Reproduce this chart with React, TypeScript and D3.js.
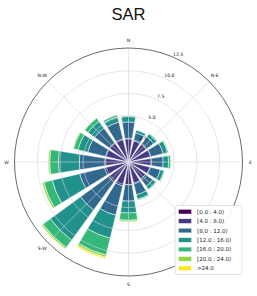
import React from 'react';
import * as d3 from 'd3';

const directions = ['N', 'NNE', 'NE', 'ENE', 'E', 'ESE', 'SE', 'SSE', 'S', 'SSW', 'SW', 'WSW', 'W', 'WNW', 'NW', 'NNW'];
const binLabels = ['[0.0 : 4.0)', '[4.0 : 8.0)', '[8.0 : 12.0)', '[12.0 : 16.0)', '[16.0 : 20.0)', '[20.0 : 24.0)', '>24.0'];

const bin0 = [0.3, 0.3, 0.3, 0.3, 0.3, 0.3, 0.3, 0.3, 0.3, 0.3, 0.3, 0.3, 0.3, 0.3, 0.3, 0.3];
const bin1 = [2.3, 2.1, 2.1, 2.2, 2.2, 2.1, 2.0, 2.1, 2.2, 2.4, 2.4, 2.4, 2.3, 2.3, 2.3, 2.3];
const bin2 = [1.8, 0.9, 1.0, 1.4, 1.3, 1.2, 1.0, 1.3, 1.8, 3.3, 3.8, 2.8, 2.8, 2.0, 2.0, 1.9];
const bin3 = [0.6, 0.3, 0.4, 0.5, 0.6, 0.4, 0.4, 0.5, 1.3, 2.6, 4.1, 3.1, 2.3, 1.1, 0.9, 0.6];
const bin4 = [0.1, 0.05, 0.1, 0.1, 0.25, 0.1, 0.1, 0.1, 0.8, 1.9, 1.0, 0.95, 0.95, 0.5, 0.45, 0.2];
const bin5 = [0, 0, 0, 0, 0.05, 0, 0, 0, 0.15, 0.25, 0.2, 0.2, 0.15, 0.1, 0.05, 0];
const bin6 = [0, 0, 0, 0, 0, 0, 0, 0, 0, 0.15, 0.05, 0, 0, 0, 0, 0];

const rTicks = [2.5, 5.0, 7.5, 10.0, 12.5];
const compassLabels = ['N', 'N-E', 'E', 'S-E', 'S', 'S-W', 'W', 'N-W'];
const binColors = ['#440154', '#443983', '#31688e', '#21918c', '#35b779', '#90d743', '#fde725'];

export default function App() {
  const W = 257, H = 296;
  const cx = 128.5, cy = 162;
  const bins = [bin0, bin1, bin2, bin3, bin4, bin5, bin6];
  const rows = directions.map((d, i) => {
    const o: any = { dir: d };
    bins.forEach((b, k) => (o['b' + k] = b[i]));
    return o;
  });
  const keys = bins.map((_, k) => 'b' + k);
  const stacked = d3.stack().keys(keys)(rows);
  const r = d3.scaleLinear().domain([0, 12.5]).range([0, 114]);
  const angle = d3.scaleBand().domain(directions).range([-Math.PI / 16, 2 * Math.PI - Math.PI / 16]);
  const width = (2 * Math.PI / 16) * 0.8;
  const arc = d3.arc<any>();
  const deg = Math.PI / 180;
  const labelAng = 22.5 * deg;

  return (
    <svg width={W} height={H} style={{ position: 'absolute', left: 0, top: 0, background: '#fff' }}>
      <text x={cx} y={19.5} textAnchor="middle" fontFamily="Liberation Sans, Arial, sans-serif" fontSize={16.5} fill="#111">SAR</text>
      <g transform={`translate(${cx},${cy})`}>
        {stacked.map((layer, k) => (
          <g key={k}>
            {layer.map((seg, i) => {
              if (seg[1] - seg[0] <= 0) return null;
              const a = (angle(directions[i]) as number) + angle.bandwidth() / 2;
              return (
                <path key={i}
                  d={arc({ innerRadius: r(seg[0]), outerRadius: r(seg[1]), startAngle: a - width / 2, endAngle: a + width / 2 }) as string}
                  fill={binColors[k]} stroke="#fff" strokeWidth={0.5} />
              );
            })}
          </g>
        ))}
        {rTicks.slice(0, -1).map((t) => (
          <circle key={t} r={r(t)} fill="none" stroke="#d6d6d6" strokeWidth={0.6} />
        ))}
        {compassLabels.map((c, i) => {
          const a = i * 45 * deg;
          return <line key={c} x1={0} y1={0} x2={r(12.5) * Math.sin(a)} y2={-r(12.5) * Math.cos(a)} stroke="#d6d6d6" strokeWidth={0.6} />;
        })}
        <circle r={r(12.5)} fill="none" stroke="#444" strokeWidth={0.8} />
        {rTicks.map((t) => (
          <text key={t} x={r(t) * Math.sin(labelAng) + 6} y={-r(t) * Math.cos(labelAng) - 2.5}
            textAnchor="middle" dominantBaseline="central" fontFamily="DejaVu Sans, sans-serif" fontSize={4.6} fill="#222">
            {t.toFixed(1)}
          </text>
        ))}
        {compassLabels.map((c, i) => {
          if (c === 'S-E') return null; // hidden under the legend in the reference
          const a = i * 45 * deg;
          const R = 122;
          return (
            <text key={c} x={R * Math.sin(a)} y={-R * Math.cos(a)} textAnchor="middle" dominantBaseline="central"
              fontFamily="DejaVu Sans, sans-serif" fontSize={4.6} fill="#222">{c}</text>
          );
        })}
      </g>
      <g>
        <rect x={175} y={205.5} width={67} height={69} rx={2} fill="#fff" fillOpacity={0.9} stroke="#cfcfcf" strokeWidth={0.6} />
        {binLabels.map((lab, k) => {
          const y = 211.7 + k * 9.43;
          return (
            <g key={lab}>
              <rect x={178.5} y={y - 2.3} width={13} height={4.6} fill={binColors[k]} stroke="#fff" strokeWidth={0.4} />
              <text x={197} y={y} dominantBaseline="central" fontFamily="DejaVu Sans, sans-serif" fontSize={5.5} fill="#222">{lab}</text>
            </g>
          );
        })}
      </g>
    </svg>
  );
}
